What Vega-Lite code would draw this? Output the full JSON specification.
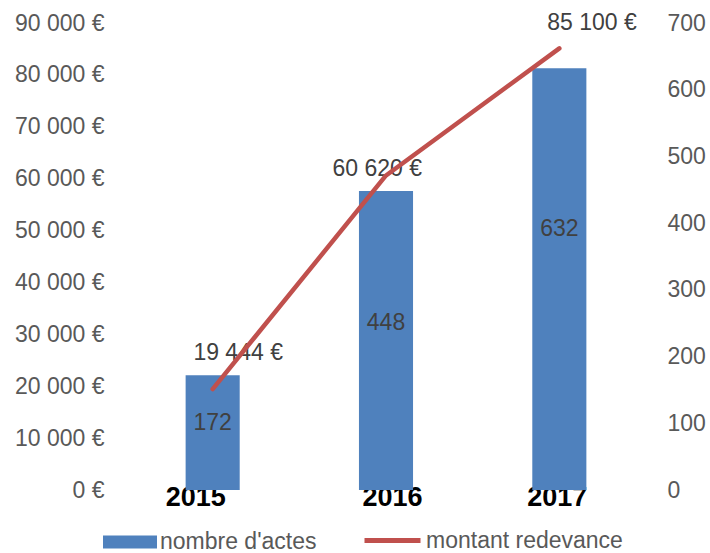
{
  "$schema": "https://vega.github.io/schema/vega-lite/v6.json",
  "width": 520,
  "height": 467,
  "autosize": "none",
  "padding": {"left": 126, "top": 23, "right": 64, "bottom": 63},
  "background": "white",
  "data": {
    "values": [
      {"annee": "2015", "actes": 172, "montant": 19444},
      {"annee": "2016", "actes": 448, "montant": 60620},
      {"annee": "2017", "actes": 632, "montant": 85100}
    ]
  },
  "encoding": {
    "x": {
      "field": "annee",
      "type": "ordinal",
      "scale": {"paddingInner": 0.688, "paddingOuter": 0.344},
      "axis": {
        "title": null,
        "labelAngle": 0,
        "domain": false,
        "ticks": false,
        "tickSize": 0,
        "labelFont": "Liberation Sans",
        "labelFontSize": 27,
        "labelFontWeight": "bold",
        "labelColor": "#000000",
        "labelBaseline": "alphabetic",
        "labelPadding": 15,
        "labelOffset": {
          "condition": [
            {"test": "datum.value === '2015'", "value": -17},
            {"test": "datum.value === '2016'", "value": 6.5}
          ],
          "value": -2
        }
      }
    }
  },
  "layer": [
    {
      "mark": {"type": "bar", "strokeWidth": 0},
      "encoding": {
        "y": {
          "field": "actes",
          "type": "quantitative",
          "scale": {"domain": [0, 700], "nice": false},
          "axis": {
            "orient": "right",
            "title": null,
            "values": [0, 100, 200, 300, 400, 500, 600, 700],
            "domain": false,
            "ticks": false,
            "grid": false,
            "labelFont": "Liberation Sans",
            "labelFontSize": 23,
            "labelColor": "#595959",
            "labelPadding": 21
          }
        },
        "fill": {
          "datum": "nombre d'actes",
          "type": "nominal",
          "scale": {"range": ["#4F81BD"]},
          "legend": {
            "orient": "none",
            "legendX": -23,
            "legendY": 492,
            "title": null,
            "symbolType": "M-1,-0.24H1V0.24H-1Z",
            "symbolSize": 2916,
            "symbolStrokeWidth": 0,
            "labelFont": "Liberation Sans",
            "labelFontSize": 23,
            "labelColor": "#595959",
            "labelOffset": 3,
            "labelLimit": 0
          }
        }
      }
    },
    {
      "mark": {"type": "text", "font": "Liberation Sans", "fontSize": 23, "color": "#404040", "align": "center", "baseline": "middle",
        "dy": {"expr": "datum.annee === '2016' ? 12.7 : (datum.annee === '2017' ? -7 : 2)"}},
      "encoding": {
        "y": {"field": "actes", "type": "quantitative", "scale": {"domain": [0, 1164], "nice": false}, "axis": null},
        "text": {"field": "actes", "type": "quantitative"}
      }
    },
    {
      "transform": [{"filter": "datum.annee === '2015'"}],
      "mark": {"type": "text", "font": "Liberation Sans", "fontSize": 23, "color": "#404040", "align": "center", "baseline": "middle", "dx": 25.5, "dy": -36.4},
      "encoding": {
        "y": {"field": "montant", "type": "quantitative", "scale": {"domain": [0, 90000], "nice": false}, "axis": null},
        "text": {"field": "montant", "type": "quantitative", "format": "$,.0f"}
      }
    },
    {
      "transform": [{"filter": "datum.annee === '2016'"}],
      "mark": {"type": "text", "font": "Liberation Sans", "fontSize": 23, "color": "#404040", "align": "center", "baseline": "middle", "dx": -8.8, "dy": -6.4},
      "encoding": {
        "y": {"field": "montant", "type": "quantitative", "scale": {"domain": [0, 90000], "nice": false}, "axis": null},
        "text": {"field": "montant", "type": "quantitative", "format": "$,.0f"}
      }
    },
    {
      "transform": [{"filter": "datum.annee === '2017'"}],
      "mark": {"type": "text", "font": "Liberation Sans", "fontSize": 23, "color": "#404040", "align": "center", "baseline": "middle", "dx": 32.7, "dy": -25.4},
      "encoding": {
        "y": {"field": "montant", "type": "quantitative", "scale": {"domain": [0, 90000], "nice": false}, "axis": null},
        "text": {"field": "montant", "type": "quantitative", "format": "$,.0f"}
      }
    },
    {
      "mark": {"type": "line", "strokeWidth": 4.5, "strokeCap": "round", "strokeJoin": "round"},
      "encoding": {
        "y": {
          "field": "montant",
          "type": "quantitative",
          "scale": {"domain": [0, 90000], "nice": false},
          "axis": {
            "orient": "left",
            "title": null,
            "values": [0, 10000, 20000, 30000, 40000, 50000, 60000, 70000, 80000, 90000],
            "format": "$,.0f",
            "domain": false,
            "ticks": false,
            "grid": false,
            "labelFont": "Liberation Sans",
            "labelFontSize": 23,
            "labelColor": "#595959",
            "labelPadding": 22
          }
        },
        "stroke": {
          "datum": "montant redevance",
          "type": "nominal",
          "scale": {"range": ["#C0504D"]},
          "legend": {
            "orient": "none",
            "legendX": 236,
            "legendY": 487,
            "title": null,
            "symbolType": "stroke",
            "symbolSize": 3136,
            "symbolStrokeWidth": 5,
            "labelFont": "Liberation Sans",
            "labelFontSize": 23,
            "labelColor": "#595959",
            "labelOffset": 3,
            "labelLimit": 0
          }
        }
      }
    }
  ],
  "resolve": {"scale": {"y": "independent"}},
  "config": {
    "view": {"stroke": null},
    "locale": {
      "number": {"decimal": ",", "thousands": " ", "grouping": [3], "currency": ["", " €"]}
    }
  }
}
